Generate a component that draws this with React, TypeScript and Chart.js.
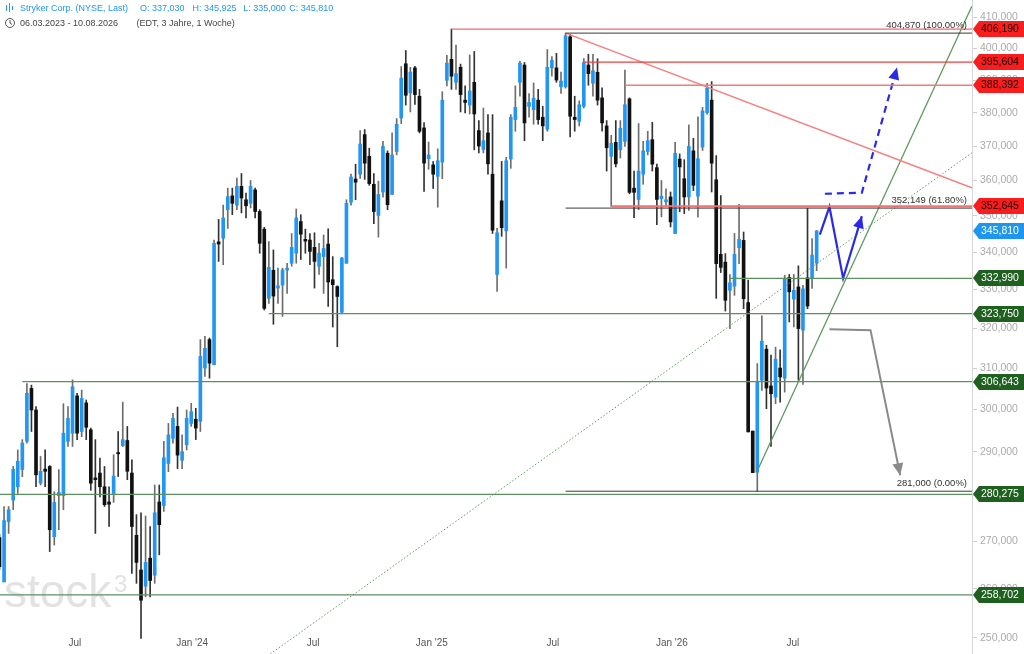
import { useEffect, useRef } from "react";
import { Chart, registerables } from "chart.js";

Chart.register(...registerables);

// weekly candles, first week Mar 2023
const opens = [
  270.8, 261.4, 274.3, 279.0, 282.0, 285.9, 292.4, 305.0, 299.8, 282.8,
  286.0, 286.6, 271.0, 280.0, 280.0, 292.4, 294.3, 303.2, 294.7, 301.5,
  295.1, 284.0, 285.1, 282.0, 278.6, 280.5, 289.8, 291.4, 292.6, 285.1,
  271.3, 263.9, 260.5, 266.4, 262.8, 278.6, 277.8, 287.3, 293.1, 295.9,
  288.0, 291.6, 296.6, 297.6, 297.1, 310.0, 317.1, 310.8, 342.8, 343.8,
  351.7, 355.6, 353.0, 358.3, 354.5, 353.5, 357.3, 351.2, 346.3, 327.7,
  335.1, 330.4, 331.2, 335.2, 337.0, 339.7, 348.4, 343.5, 343.3, 341.3,
  336.2, 338.8, 342.2, 332.6, 330.8, 324.1, 337.0, 353.8, 360.4, 361.8,
  373.4, 367.0, 358.9, 350.1, 356.7, 367.9, 356.0, 368.4, 378.4, 395.1,
  386.0, 393.8, 385.0, 375.4, 366.3, 364.5, 361.2, 365.3, 389.9, 396.5,
  389.3, 394.0, 383.8, 382.3, 389.3, 374.6, 369.0, 373.9, 361.8, 334.0,
  354.2, 345.8, 366.2, 377.9, 389.3, 394.7, 381.9, 380.9, 383.8, 378.6,
  375.0, 393.8, 393.8, 387.9, 387.9, 403.7, 378.6, 377.4, 381.9, 394.7,
  389.0, 392.4, 384.5, 376.0, 367.0, 371.1, 368.9, 371.4, 384.2, 357.8,
  354.6, 361.8, 368.4, 371.9, 363.7, 354.8, 353.9, 355.3, 345.1, 366.2,
  360.5, 355.3, 368.6, 355.5, 369.7, 380.0, 383.8, 360.2, 339.4, 337.3,
  329.8, 330.9, 341.2, 343.2, 326.6, 294.8, 285.3, 307.0, 314.7, 305.6,
  302.9, 310.0, 307.5, 333.2, 327.5, 330.7, 319.5, 333.1, 333.1, 337.03,
];
const highs = [
  271.5, 277.6, 277.6, 286.6, 290.4, 292.8, 306.2, 305.8, 300.6, 288.9,
  290.4, 286.8, 280.9, 285.9, 301.3, 300.6, 307.1, 303.8, 304.6, 302.2,
  295.5, 292.8, 288.5, 286.6, 282.0, 289.3, 294.7, 301.7, 295.9, 288.1,
  275.8, 276.2, 275.5, 273.2, 282.4, 282.4, 292.4, 296.6, 299.0, 300.5,
  293.9, 299.8, 301.4, 300.2, 317.1, 317.9, 317.5, 343.3, 349.0, 353.0,
  357.8, 357.8, 360.7, 362.0, 356.4, 360.0, 357.8, 351.7, 346.8, 342.9,
  340.6, 335.7, 335.7, 337.0, 345.1, 351.9, 350.3, 346.3, 345.1, 345.3,
  342.4, 344.7, 346.4, 338.8, 331.0, 338.6, 354.5, 361.8, 364.7, 374.6,
  374.9, 369.4, 362.0, 359.8, 371.4, 368.6, 373.9, 378.2, 394.2, 399.3,
  394.0, 394.3, 387.1, 377.0, 371.2, 365.5, 369.2, 386.4, 397.8, 406.19,
  401.0, 395.0, 388.2, 397.9, 399.0, 377.6, 381.4, 379.4, 379.4, 346.5,
  365.5, 366.7, 379.4, 388.2, 395.9, 395.5, 385.8, 389.1, 387.1, 381.9,
  399.6, 397.4, 398.4, 392.5, 404.87, 404.5, 385.0, 383.6, 396.7, 398.1,
  398.1, 396.7, 387.6, 377.6, 373.2, 377.6, 377.6, 393.1, 384.5, 362.7,
  376.7, 371.4, 374.4, 377.1, 364.7, 360.0, 357.6, 356.7, 371.1, 367.7,
  366.0, 376.3, 372.3, 378.7, 381.6, 389.0, 389.5, 367.2, 355.7, 339.6,
  334.0, 345.1, 353.2, 345.5, 332.5, 294.8, 311.1, 323.2, 315.7, 313.2,
  315.2, 314.5, 333.8, 334.0, 334.0, 336.3, 331.1, 352.1, 343.7, 345.925,
];
const lows = [
  264.0, 261.4, 271.7, 276.9, 280.5, 284.3, 292.0, 294.7, 282.0, 282.4,
  282.0, 267.8, 269.2, 272.5, 276.9, 291.2, 291.2, 292.8, 293.5, 292.8,
  281.2, 271.7, 279.7, 277.6, 273.2, 278.5, 284.3, 291.2, 283.6, 263.2,
  261.1, 249.9, 258.3, 258.3, 261.1, 267.1, 276.5, 285.4, 292.0, 286.1,
  286.1, 290.4, 295.9, 292.8, 294.7, 307.9, 307.5, 310.8, 337.5, 336.6,
  346.5, 350.3, 351.7, 350.8, 349.4, 352.2, 349.4, 339.7, 324.7, 326.4,
  321.0, 326.4, 323.0, 329.0, 336.2, 337.0, 338.0, 339.7, 336.6, 330.4,
  334.0, 329.0, 325.6, 320.3, 315.3, 323.8, 337.0, 353.0, 354.5, 360.6,
  360.3, 358.6, 347.8, 344.1, 355.2, 351.7, 356.0, 367.4, 376.7, 382.3,
  380.2, 382.5, 373.9, 356.9, 363.2, 357.7, 352.4, 360.5, 388.2, 387.1,
  387.1, 380.2, 379.9, 379.6, 368.9, 368.0, 368.0, 361.8, 345.1, 329.5,
  344.3, 335.7, 363.5, 374.4, 385.0, 371.6, 378.6, 376.5, 376.5, 371.6,
  374.4, 391.2, 389.3, 385.9, 387.5, 372.7, 374.4, 376.0, 381.4, 388.4,
  385.0, 382.3, 374.4, 362.7, 352.6, 363.9, 366.5, 369.9, 356.2, 349.5,
  351.7, 358.9, 367.4, 362.7, 347.5, 349.7, 352.9, 346.9, 345.1, 351.1,
  350.6, 351.5, 357.1, 349.6, 368.7, 379.5, 356.7, 327.7, 334.5, 324.4,
  319.9, 328.5, 336.9, 325.0, 294.6, 285.2, 281.0, 304.5, 300.1, 291.2,
  301.3, 301.7, 304.1, 321.6, 320.3, 307.0, 306.0, 325.0, 330.3, 335.0,
];
const closes = [
  264.6, 274.5, 276.9, 285.9, 287.8, 292.0, 303.8, 299.8, 284.7, 285.5,
  285.5, 272.5, 278.5, 280.7, 294.3, 297.8, 305.4, 294.3, 302.6, 295.7,
  282.8, 283.6, 282.0, 278.0, 278.1, 284.4, 289.5, 292.8, 285.5, 273.2,
  265.5, 257.6, 265.5, 261.7, 276.2, 273.6, 288.6, 293.9, 297.8, 289.2,
  290.0, 297.8, 299.4, 295.5, 312.9, 314.9, 311.2, 342.4, 342.2, 349.4,
  355.4, 353.5, 358.3, 355.0, 352.8, 358.3, 351.2, 342.4, 325.1, 335.9,
  328.3, 331.0, 335.2, 335.7, 341.3, 349.4, 344.9, 343.0, 340.2, 337.5,
  339.7, 341.0, 332.0, 331.3, 328.2, 338.4, 353.5, 361.0, 359.5, 370.6,
  365.0, 359.1, 351.2, 356.0, 369.9, 353.1, 367.4, 376.5, 390.6, 385.3,
  392.5, 385.5, 374.4, 365.0, 367.4, 361.8, 365.7, 383.8, 395.3, 391.2,
  392.0, 385.5, 383.1, 386.6, 379.6, 370.0, 371.6, 364.8, 346.0, 345.3,
  346.7, 365.7, 378.6, 381.6, 395.3, 376.9, 383.1, 384.4, 377.9, 376.0,
  394.0, 396.2, 390.0, 389.7, 404.0, 378.9, 377.9, 382.4, 395.5, 392.0,
  392.9, 383.8, 376.9, 369.5, 370.8, 364.8, 375.3, 382.4, 356.6, 356.6,
  362.7, 368.6, 371.6, 364.7, 354.6, 355.5, 354.5, 348.3, 367.9, 363.9,
  355.3, 369.9, 358.6, 366.3, 380.5, 387.5, 365.0, 336.9, 335.9, 327.2,
  331.8, 339.4, 343.5, 327.6, 294.6, 285.2, 306.6, 316.7, 305.1, 303.7,
  312.2, 307.8, 332.9, 329.4, 329.8, 319.9, 330.2, 325.7, 339.2, 345.81,
];

const priceTicks = [250, 260, 270, 280, 290, 300, 310, 320, 330, 340, 350, 360, 370, 380, 390, 400, 410];
const monthTickPos = [16.5, 42.2, 68.7, 94.7, 121.2, 147.3, 173.8];
const monthLabels = ["Jul", "Jan '24", "Jul", "Jan '25", "Jul", "Jan '26", "Jul"];

const resistancePrices = [406.19, 395.604, 388.392, 352.645];
const resistanceFrom = [99, 128, 137, 134];
const supportPrices = [332.99, 323.75, 306.643, 280.275, 258.702];
const supportFrom = [160, 59, 5, 0, 0];
const fibPrices = [404.87, 352.149, 281.0];
const fibLabels = ["404,870 (100.00%)", "352,149 (61.80%)", "281,000 (0.00%)"];
const fibFrom = 124;
const lastClose = 345.81;

const downTrendX = [124, 213];
const downTrendY = [404.87, 357.9];
const upTrendX = [166, 213];
const upTrendY = [285.6, 413.6];
const longTrendX = [59.3, 213];
const longTrendY = [246.8, 368];
const bullPathX = [179.7, 181.8, 184.8, 188.9];
const bullPathY = [344.8, 352.5, 333.0, 349.9];
const breakoutPathX = [180.8, 188.9, 196.6];
const breakoutPathY = [356.2, 356.5, 393.9];
const bearPathX = [181.8, 190.8, 197.3];
const bearPathY = [319.7, 319.5, 284.6];

const X_MIN = 0.11;
const X_MAX = 213.03;
const FONT = "'Liberation Sans', Arial, sans-serif";

const fmt = (v: number) => v.toFixed(3).replace(".", ",");
const pts = (xs: number[], ys: number[]) => xs.map((x, i) => ({ x, y: ys[i] }));

function arrowHead(ctx: CanvasRenderingContext2D, x0: number, y0: number, x1: number, y1: number, color: string) {
  const a = Math.atan2(y1 - y0, x1 - x0);
  const len = 12;
  const w = 5.5;
  ctx.save();
  ctx.fillStyle = color;
  ctx.beginPath();
  ctx.moveTo(x1, y1);
  ctx.lineTo(x1 - len * Math.cos(a) + w * Math.sin(a), y1 - len * Math.sin(a) - w * Math.cos(a));
  ctx.lineTo(x1 - len * Math.cos(a) - w * Math.sin(a), y1 - len * Math.sin(a) + w * Math.cos(a));
  ctx.closePath();
  ctx.fill();
  ctx.restore();
}

const overlay = {
  id: "overlay",
  beforeDatasetsDraw(chart: any) {
    const { ctx } = chart;
    ctx.save();
    ctx.fillStyle = "#e2e2e2";
    ctx.font = `46px ${FONT}`;
    ctx.textBaseline = "alphabetic";
    ctx.fillText("stock", 4, 607);
    ctx.font = `24px ${FONT}`;
    ctx.fillText("3", 114, 592);
    ctx.restore();
  },
  afterDatasetsDraw(chart: any) {
    const { ctx } = chart;
    const xs = chart.scales.x;
    const ys = chart.scales.y;
    const px = (v: number) => xs.getPixelForValue(v);
    const py = (v: number) => ys.getPixelForValue(v);

    const heads: [number[], number[], string][] = [
      [bullPathX, bullPathY, "#2a2ae6"],
      [breakoutPathX, breakoutPathY, "#2a2ae6"],
      [bearPathX, bearPathY, "#8a8a8a"],
    ];
    heads.forEach(([hx, hy, c]) => {
      const n = hx.length;
      arrowHead(ctx, px(hx[n - 2]), py(hy[n - 2]), px(hx[n - 1]), py(hy[n - 1]), c);
    });

    ctx.save();
    ctx.fillStyle = "#333";
    ctx.font = `9.5px ${FONT}`;
    ctx.textAlign = "right";
    ctx.textBaseline = "bottom";
    fibPrices.forEach((p, i) => {
      ctx.fillText(fibLabels[i], 967, py(p) - 3);
    });

    ctx.fillStyle = "#555";
    ctx.font = `10px ${FONT}`;
    ctx.textAlign = "center";
    ctx.textBaseline = "middle";
    monthTickPos.forEach((t, i) => {
      ctx.fillText(monthLabels[i], px(t), 643);
    });
    ctx.restore();
  },
  afterDraw(chart: any) {
    const { ctx } = chart;
    const ys = chart.scales.y;
    const boxes: [number, string, string][] = [
      ...resistancePrices.map((p) => [p, "#f81e1e", "#1a0000"] as [number, string, string]),
      [lastClose, "#1e96f0", "#ffffff"],
      ...supportPrices.map((p) => [p, "#1f5f1f", "#ffffff"] as [number, string, string]),
    ];
    ctx.save();
    ctx.font = `10.5px ${FONT}`;
    ctx.textBaseline = "middle";
    ctx.textAlign = "left";
    boxes.forEach(([p, bg, fg]) => {
      const yc = Math.round(ys.getPixelForValue(p));
      ctx.fillStyle = bg;
      ctx.beginPath();
      ctx.moveTo(973, yc);
      ctx.lineTo(979, yc - 8);
      ctx.lineTo(1024, yc - 8);
      ctx.lineTo(1024, yc + 8);
      ctx.lineTo(979, yc + 8);
      ctx.closePath();
      ctx.fill();
      ctx.fillStyle = fg;
      ctx.fillText(fmt(p), 981, yc + 0.5);
    });

    // header
    const blue = "#2196f3";
    ctx.strokeStyle = blue;
    ctx.lineWidth = 1;
    [[6, 5, 11], [9, 3, 12], [12, 6, 10]].forEach(([x, a, b]) => {
      ctx.beginPath();
      ctx.moveTo(x + 0.5, a);
      ctx.lineTo(x + 0.5, b);
      ctx.stroke();
    });
    ctx.fillStyle = blue;
    ctx.font = `9px ${FONT}`;
    ctx.textBaseline = "middle";
    const head = [
      ["Stryker Corp. (NYSE, Last)", 20],
      ["O: 337,030", 140],
      ["H: 345,925", 192.5],
      ["L: 335,000", 243.3],
      ["C: 345,810", 289.3],
    ] as [string, number][];
    head.forEach(([t, x]) => ctx.fillText(t, x, 8.5));

    ctx.strokeStyle = "#555";
    ctx.beginPath();
    ctx.arc(10, 23, 4.5, 0, Math.PI * 2);
    ctx.moveTo(10, 20);
    ctx.lineTo(10, 23);
    ctx.lineTo(12, 24.5);
    ctx.stroke();
    ctx.fillStyle = "#444";
    ctx.fillText("06.03.2023 - 10.08.2026", 20, 23.5);
    ctx.fillText("(EDT, 3 Jahre, 1 Woche)", 136.5, 23.5);
    ctx.restore();
  },
};

export default function App() {
  const canvasRef = useRef<HTMLCanvasElement>(null);
  const chartRef = useRef<Chart | null>(null);

  useEffect(() => {
    document.body.style.margin = "0";
    if (!canvasRef.current) return;
    if (chartRef.current) chartRef.current.destroy();

    const idx = closes.map((_, i) => i);
    const up = idx.map((i) => closes[i] >= opens[i]);

    const level = (from: number, price: number, color: string, width: number, dash: number[] = []) => ({
      type: "line" as const,
      data: [{ x: from, y: price }, { x: X_MAX, y: price }],
      borderColor: color,
      borderWidth: width,
      borderDash: dash,
      pointRadius: 0,
      fill: false,
      tension: 0,
      order: 0,
    });
    const path = (xs: number[], ys: number[], color: string, width: number, dash: number[] = []) => ({
      type: "line" as const,
      data: pts(xs, ys),
      borderColor: color,
      borderWidth: width,
      borderDash: dash,
      pointRadius: 0,
      fill: false,
      tension: 0,
      order: 0,
    });

    const redColors = ["#f36c6c", "#e8423f", "#f27a7a", "#f07474"];
    const redWidths = [1.3, 1.3, 1.6, 2];

    const datasets: any[] = [
      ...supportPrices.map((p, i) => level(supportFrom[i], p, "#5e8f5e", 1.3)),
      ...fibPrices.map((p) => level(fibFrom, p, "#3a3a3a", 1)),
      ...resistancePrices.map((p, i) => level(resistanceFrom[i], p, redColors[i], redWidths[i])),
      path(downTrendX, downTrendY, "#f47f7f", 1.4),
      path(upTrendX, upTrendY, "#5e9a5e", 1.3),
      path(longTrendX, longTrendY, "#5e9a5e", 1, [1.5, 2]),
      path(bullPathX, bullPathY, "#2a2ae6", 2.2),
      path(breakoutPathX, breakoutPathY, "#2a2ae6", 2.2, [7, 5]),
      path(bearPathX, bearPathY, "#8a8a8a", 2),
      {
        type: "bar",
        data: idx.map((i) => ({ x: i, y: [lows[i], highs[i]] })),
        backgroundColor: up.map((u) => (u ? "#6d6d6d" : "#333333")),
        barThickness: 1,
        grouped: false,
        order: 3,
      },
      {
        type: "bar",
        data: idx.map((i) => ({ x: i, y: [opens[i], closes[i]] })),
        backgroundColor: up.map((u) => (u ? "#2196f3" : "#111111")),
        barThickness: 3,
        minBarLength: 1,
        grouped: false,
        order: 2,
      },
    ];

    chartRef.current = new Chart(canvasRef.current, {
      type: "bar",
      data: { datasets },
      options: {
        responsive: true,
        maintainAspectRatio: false,
        animation: false,
        events: [],
        layout: { padding: 0 },
        plugins: {
          legend: { display: false },
          tooltip: { enabled: false },
        },
        scales: {
          x: {
            type: "linear",
            min: X_MIN,
            max: X_MAX,
            offset: false,
            display: false,
          },
          y: {
            type: "logarithmic",
            position: "right",
            min: 246.8,
            max: 415.7,
            afterBuildTicks: (s: any) => {
              s.ticks = priceTicks.map((v) => ({ value: v }));
            },
            afterFit: (s: any) => {
              s.width = 52;
              s.paddingTop = 0;
              s.paddingBottom = 0;
            },
            ticks: {
              autoSkip: false,
              color: "#ababab",
              font: { family: FONT, size: 10.5 },
              padding: 3,
              callback: (v: any) => fmt(Number(v)),
            },
            grid: {
              drawOnChartArea: false,
              drawTicks: true,
              tickLength: 5,
              color: "#cfcfcf",
            },
            border: { display: true, color: "#d6d6d6" },
          },
        },
      } as any,
      plugins: [overlay],
    });

    return () => {
      if (chartRef.current) {
        chartRef.current.destroy();
        chartRef.current = null;
      }
    };
  }, []);

  return (
    <div style={{ position: "relative", width: 1024, height: 654, background: "#fff" }}>
      <canvas ref={canvasRef} />
    </div>
  );
}
